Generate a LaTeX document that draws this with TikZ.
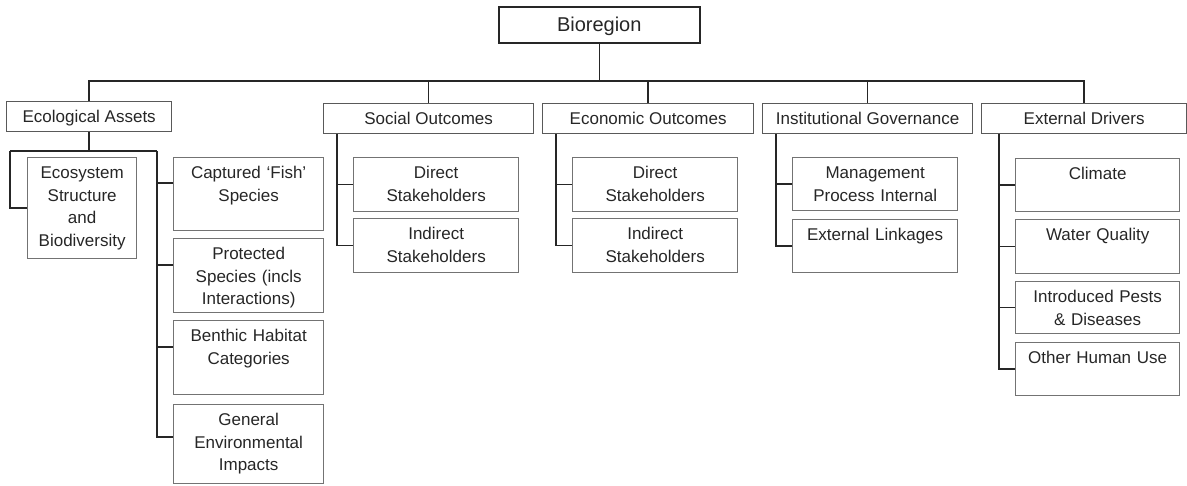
\documentclass[tikz,border=0pt]{standalone}
\usepackage{fontspec}
\setmainfont{Liberation Sans}
\begin{document}
\begin{tikzpicture}[x=1pt,y=-1pt,font=\fontsize{17}{22.5}\selectfont,text=black!85,
rootbox/.style={draw=black!85,line width=1.5pt,anchor=north west,minimum width=201pt,minimum height=36pt,
font=\fontsize{20}{24}\selectfont,text height=14.3pt,text depth=0pt},
headbox/.style={draw=black!65,line width=1.3pt,anchor=north west,minimum width=#1pt,minimum height=30pt,
text height=12.2pt,text depth=0pt},
leafbox/.style 2 args={draw=black!55,line width=1.3pt,anchor=north west,align=center,inner xsep=3pt,inner ysep=3pt,
text width=#1pt,text height=18pt,text depth=#2pt},
link/.style={draw=black!85,line width=1.5pt}]
\useasboundingbox(0,0)rectangle(1187,485);
\node[rootbox](bio)at(498,6){Bioregion};
\node[headbox=165](eco)at(6,101){Ecological Assets};
\node[headbox=210](soc)at(323,103){Social Outcomes};
\node[headbox=211](econ)at(542,103){Economic Outcomes};
\node[headbox=210](inst)at(762,103){Institutional Governance};
\node[headbox=205](ext)at(981,103){External Drivers};
\node[leafbox={103}{77}](esb)at(27,157){Ecosystem\\Structure\\and\\Biodiversity};
\node[leafbox={144}{49}](cap)at(173,157){Captured ‘Fish’\\Species};
\node[leafbox={144}{50}](prot)at(173,238){Protected\\Species (incls\\Interactions)};
\node[leafbox={144}{50}](bent)at(173,320){Benthic Habitat\\Categories};
\node[leafbox={144}{55}](gen)at(173,404){General\\Environmental\\Impacts};
\node[leafbox={159}{30}](sd)at(353,157){Direct\\Stakeholders};
\node[leafbox={159}{30}](si)at(353,218){Indirect\\Stakeholders};
\node[leafbox={159}{30}](ed)at(572,157){Direct\\Stakeholders};
\node[leafbox={159}{30}](ei)at(572,218){Indirect\\Stakeholders};
\node[leafbox={159}{29}](mp)at(792,157){Management\\Process Internal};
\node[leafbox={159}{29}](el)at(792,219){External Linkages};
\node[leafbox={158}{29}](cl)at(1015,158){Climate};
\node[leafbox={158}{30}](wq)at(1015,219){Water Quality};
\node[leafbox={158}{28}](ip)at(1015,281){Introduced Pests\\\& Diseases};
\node[leafbox={158}{29}](oh)at(1015,342){Other Human Use};
\coordinate(bus)at(bio.south|-0,81);
\coordinate(ecoL)at(10,151);
\coordinate(ecoR)at(157,151);
\draw[link](bio.south)--(bus);
\foreach\n in{eco,soc,econ,inst,ext}\draw[link](bus)-|(\n.north);
\draw[link](eco.south)--(eco.south|-ecoR)(ecoL)--(ecoR);
\draw[link](ecoL)|-(esb.west);
\foreach\n/\d in{cap/26,prot/27,bent/27,gen/33}\draw[link](ecoR)|-([yshift=-\d pt]\n.north west);
\foreach\h/\a/\b in{soc/sd/si,econ/ed/ei,inst/mp/el}{
\draw[link]([xshift=14pt]\h.south west)|-(\a.west);
\draw[link]([xshift=14pt]\h.south west)|-(\b.west);}
\foreach\n in{cl,wq,ip,oh}\draw[link]([xshift=18pt]ext.south west)|-(\n.west);
\end{tikzpicture}
\end{document}
